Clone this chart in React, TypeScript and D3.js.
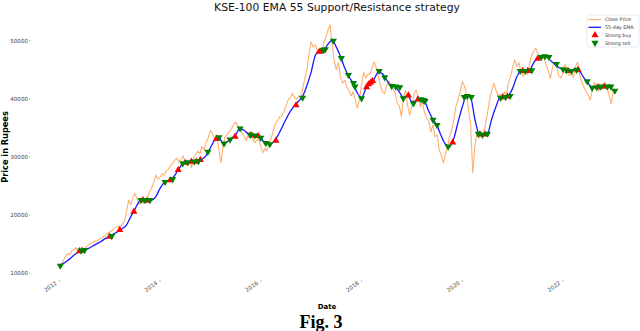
import React from "react";
import * as d3 from "d3";

// ---- DATA ----
// Close price, semi-monthly samples starting Jan 2012 (t = 2012 + i/24)
const closePrice: number[] = [
  // 2012
  11300, 11700, 12300, 12900, 13400, 13200, 13900, 14100, 14400, 13600, 13900, 13700,
  14200, 14600, 14900, 15200, 15300, 15600, 15500, 15900, 16000, 16300, 16500, 16900,
  // 2013
  17100, 17300, 17700, 17900, 18100, 17800, 18500, 18900, 20500, 22600, 21800, 23000,
  23750, 22800, 21800, 22600, 22000, 22400, 23000, 24000, 24700, 25600, 26900, 26200,
  // 2014
  26500, 27200, 26800, 27700, 27900, 28400, 29000, 29400, 29800, 29300, 29600, 30200,
  29100, 28500, 29200, 28200, 29800, 30400, 31000, 30600, 31800, 31200, 32500, 33400,
  // 2015
  34600, 34000, 33200, 33800, 31500, 29000, 31800, 33500, 33800, 34300, 34900, 35500,
  36000, 35400, 35000, 34200, 33600, 32800, 33900, 34400, 33200, 32500, 32800, 33200,
  // 2016
  31800, 30700, 31500, 31100, 32500, 33300, 34600, 35800, 36200, 36900, 37000, 37800,
  38800, 39800, 40200, 40900, 40300, 39900, 40500, 40100, 41800, 43500, 45000, 47700,
  // 2017
  49800, 48900, 49300, 48200, 48600, 47900, 49500, 50600, 51800, 52700, 49400, 46500,
  45000, 46200, 43600, 42700, 43200, 42000, 41500, 40500, 41200, 39800, 38400, 39900,
  // 2018
  42400, 44600, 43600, 44200, 44300, 45200, 46400, 45400, 43800, 42400, 41200, 40900,
  42300, 43100, 42600, 41800, 41000, 39200, 38800, 36900, 40400, 41500, 38800, 37200,
  // 2019
  38700, 40800, 41500, 40200, 38600, 39600, 37600, 36800, 36200, 34300, 35500, 33500,
  33800, 31200, 30300, 29000, 30500, 31800, 33600, 34600, 36500, 38700, 39800, 41200,
  // 2020
  43000, 42200, 40800, 38100, 35500, 27300, 31800, 34500, 33200, 34200, 33700, 35500,
  37500, 39800, 41400, 42700, 41600, 40500, 40800, 39700, 41200, 40600, 42800, 43800,
  // 2021
  45400, 46700, 45600, 46200, 44700, 43900, 44600, 44200, 45900, 47400, 48200, 48700,
  47800, 47100, 47500, 47000, 45800, 44800, 43500, 45500, 46200, 45700, 44000, 43600,
  // 2022
  44500, 45900, 45400, 44000, 44300, 43700, 45600, 46300, 44000, 42900, 42000, 41300,
  40700, 39800, 41700, 42800, 42500, 41300, 41800, 42500, 42800, 42000, 40600, 39200,
  // 2023
  41400,
];

// 55-day EMA, monthly samples starting Jan 2012 (t = 2012 + i/12)
const ema55: number[] = [
  11300, 11700, 12200, 12800, 13400, 13800, 14000, 14300, 14700, 15100, 15500, 16000,
  16400, 16800, 17200, 17700, 18300, 19700, 21000, 22300, 22600, 22600, 22600, 23200,
  24600, 25600, 26000, 26400, 27400, 28500, 29000, 29200, 29200, 29300, 29600, 30300,
  31600, 32900, 33400, 32400, 32600, 33200, 33800, 34900, 34600, 34000, 33700, 33600,
  33300, 32400, 32200, 32600, 33600, 35000, 36500, 37800, 38800, 39600, 40500, 42300,
  44600, 47500, 48200, 48400, 49400, 50100, 48900, 47300, 45300, 43800, 42700, 41000,
  40200, 41700, 42600, 43400, 44600, 44300, 43200, 42300, 42100, 41200, 40200, 40600,
  39500, 39700, 39900, 39600, 37900, 36500, 35400, 33600, 32200, 31800, 33200, 36000,
  38600, 40500, 40200, 36500, 34000, 33800, 34000, 36500, 38600, 40200, 40300, 40600,
  41800, 43800, 44800, 44800, 44900, 46200, 47100, 47300, 47200, 46600, 46000, 45400,
  45100, 44900, 44800, 45000, 44700, 43600, 42700, 41900, 42000, 42100, 42100, 42000,
  41500,
];

// Strong buy signals: [year, price]
const strongBuy: [number, number][] = [
  [2012.4, 13800], [2012.45, 13900], [2013.0, 16300], [2013.2, 17450], [2013.48, 20600],
  [2013.66, 22600], [2013.74, 22500], [2014.2, 26000], [2014.36, 27760], [2014.5, 29000],
  [2014.62, 29200], [2014.72, 29200], [2014.8, 29500], [2015.12, 33100], [2015.49, 33500],
  [2015.82, 33700], [2015.95, 33600], [2016.3, 32800], [2016.7, 38900], [2017.16, 48100],
  [2017.2, 48200], [2018.1, 42000], [2018.14, 42500], [2018.18, 42800], [2018.22, 43100],
  [2018.93, 40600], [2019.12, 39900], [2019.81, 32500], [2020.35, 33900], [2020.45, 33900],
  [2020.8, 40300], [2020.9, 40400], [2021.2, 44800], [2021.3, 44800], [2021.5, 46900],
  [2022.1, 44800], [2022.3, 45000], [2022.7, 42000], [2022.82, 42100],
];

// Strong sell signals: [year, price]
const strongSell: [number, number][] = [
  [2012.02, 11300], [2012.43, 13900], [2012.5, 14000], [2013.04, 16400], [2013.62, 22600],
  [2013.7, 22600], [2013.8, 22600], [2014.1, 25700], [2014.25, 26200], [2014.45, 28900],
  [2014.55, 29100], [2014.68, 29200], [2014.76, 29300], [2014.95, 30900], [2015.17, 33400],
  [2015.27, 32300], [2015.39, 33000], [2015.59, 34900], [2015.79, 33800], [2015.88, 33700],
  [2016.0, 33300], [2016.1, 32400], [2016.18, 32200], [2016.83, 40200], [2017.24, 48400],
  [2017.28, 48500], [2017.44, 50000], [2017.6, 47000], [2017.74, 44100], [2017.84, 42700],
  [2017.87, 42100], [2018.0, 40100], [2018.35, 44800], [2018.46, 43700], [2018.6, 42200],
  [2018.68, 42100], [2018.76, 42000], [2018.83, 40100], [2019.03, 39200], [2019.18, 39900],
  [2019.23, 39800], [2019.26, 39600], [2019.42, 36400], [2019.5, 35500], [2019.72, 31800],
  [2020.04, 40300], [2020.1, 40500], [2020.18, 40300], [2020.32, 34000], [2020.4, 33800],
  [2020.5, 34000], [2020.76, 40200], [2020.86, 40300], [2020.95, 40500], [2021.15, 44800],
  [2021.25, 44800], [2021.38, 44900], [2021.57, 47200], [2021.64, 47300], [2021.72, 47200],
  [2021.87, 46000], [2022.0, 45100], [2022.07, 44900], [2022.17, 44800], [2022.27, 45000],
  [2022.48, 43000], [2022.58, 41900], [2022.67, 42000], [2022.75, 42100], [2022.88, 42100],
  [2022.95, 42100], [2023.03, 41400],
];

const yTicks: number[] = [10000, 20000, 30000, 40000, 50000];
const xTicks: number[] = [2012, 2014, 2016, 2018, 2020, 2022];
const legendLabels: string[] = ["Close Price", "55-day EMA", "Strong buy", "Strong sell"];

const TITLE = "KSE-100 EMA 55 Support/Resistance strategy";

export default function App() {
  const W = 640;
  const H = 331;

  const x = d3.scaleLinear().domain([2012, 2022]).range([59.3, 563]);
  const y = d3.scaleLinear().domain([10000, 50000]).range([273.3, 40.7]);

  const closePts: [number, number][] = closePrice.map((v, i) => [2012 + i / 24, v]);
  const emaPts: [number, number][] = ema55.map((v, i) => [2012 + i / 12, v]);

  const closeLine = d3
    .line<[number, number]>()
    .x((d) => x(d[0]))
    .y((d) => y(d[1]));
  const emaLine = d3
    .line<[number, number]>()
    .x((d) => x(d[0]))
    .y((d) => y(d[1]))
    .curve(d3.curveMonotoneX);

  const triUp = d3.symbol().type(d3.symbolTriangle).size(22)() as string;

  const axisY = 281;
  const axisX = 31;

  return (
    <svg
      width={W}
      height={H}
      style={{ position: "absolute", left: 0, top: 0, background: "#fff" }}
      fontFamily="DejaVu Sans, sans-serif"
    >
      <rect x={0} y={0} width={W} height={H} fill="#fff" />
      {/* title */}
      <text x={337} y={11} textAnchor="middle" fontSize={10.8} fill="#111">
        {TITLE}
      </text>

      {/* y ticks */}
      {yTicks.map((t) => (
        <g key={t}>
          <line x1={axisX - 2} x2={axisX} y1={y(t)} y2={y(t)} stroke="#999" strokeWidth={0.6} />
          <text x={axisX - 3} y={y(t)} dy="0.35em" textAnchor="end" fontSize={5.6} fill="#444">
            {t}
          </text>
        </g>
      ))}

      {/* x ticks */}
      {xTicks.map((t) => (
        <g key={t}>
          <line x1={x(t)} x2={x(t)} y1={axisY - 1} y2={axisY + 1} stroke="#999" strokeWidth={0.6} />
          <text
            transform={`translate(${x(t) - 2},${axisY + 3}) rotate(-35)`}
            textAnchor="end"
            fontSize={5.6}
            fill="#444"
          >
            {t}
          </text>
        </g>
      ))}

      {/* axis labels */}
      <text
        transform={`translate(8,147) rotate(-90)`}
        textAnchor="middle"
        fontSize={8.2}
        fontWeight="bold"
        fill="#000"
      >
        Price in Rupees
      </text>
      <text x={327} y={309} textAnchor="middle" fontSize={7} fontWeight="bold" fill="#000">
        Date
      </text>

      {/* series */}
      <path d={closeLine(closePts) || ""} fill="none" stroke="#ffb070" strokeWidth={1.1} strokeLinejoin="round" />
      <path d={emaLine(emaPts) || ""} fill="none" stroke="#1a1aff" strokeWidth={1.3} />

      {strongBuy.map((d, i) => (
        <path key={"b" + i} d={triUp} transform={`translate(${x(d[0])},${y(d[1])})`} fill="#ff0000" />
      ))}
      {strongSell.map((d, i) => (
        <path
          key={"s" + i}
          d={triUp}
          transform={`translate(${x(d[0])},${y(d[1])}) rotate(180)`}
          fill="#008000"
        />
      ))}

      {/* legend */}
      <g>
        <rect x={587} y={15} width={52} height={32} rx={1.5} fill="#fff" stroke="#ddd" strokeWidth={0.6} />
        {legendLabels.map((lab, i) => {
          const ly = 19.5 + i * 7.8;
          return (
            <g key={lab}>
              {i === 0 && <line x1={588.5} x2={601} y1={ly} y2={ly} stroke="#ffb070" strokeWidth={1.2} />}
              {i === 1 && <line x1={588.5} x2={601} y1={ly} y2={ly} stroke="#1a1aff" strokeWidth={1.3} />}
              {i === 2 && <path d={triUp} transform={`translate(595,${ly})`} fill="#ff0000" />}
              {i === 3 && <path d={triUp} transform={`translate(595,${ly}) rotate(180)`} fill="#008000" />}
              <text x={605} y={ly} dy="0.35em" fontSize={4.8} fill="#333">
                {lab}
              </text>
            </g>
          );
        })}
      </g>

      {/* caption */}
      <text
        x={321}
        y={327.5}
        textAnchor="middle"
        fontSize={18}
        fontWeight="bold"
        fontFamily="Liberation Serif, DejaVu Serif, serif"
        fill="#000"
      >
        Fig. 3
      </text>
    </svg>
  );
}
